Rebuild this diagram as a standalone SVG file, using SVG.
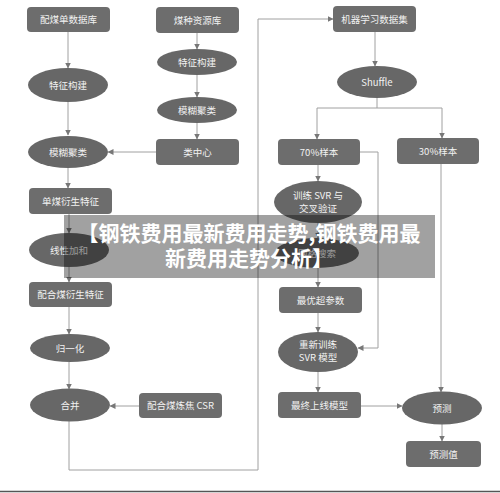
<svg xmlns="http://www.w3.org/2000/svg" width="500" height="493" viewBox="0 0 500 493">
<style>
.box{fill:#6d6d6d}
.ell{fill:#676767}
.t{font-family:"Noto Sans CJK SC","Noto Sans",sans-serif;font-size:9.5px;fill:#f2f2f2;text-anchor:middle}
.c{fill:none;stroke:#a0a0a0;stroke-width:1}
.banner{font-family:"Noto Sans CJK SC",sans-serif;font-size:21px;font-weight:bold;fill:#ffffff;text-anchor:middle}
</style>
<defs>
<marker id="ah" markerWidth="6" markerHeight="6" refX="5.5" refY="3" orient="auto" markerUnits="userSpaceOnUse">
<path d="M0,0 L6,3 L0,6 Z" fill="#777"/>
</marker>
</defs>
<rect width="500" height="493" fill="#ffffff"/>
<g id="connectors">
<path class="c" d="M68,32 V68" marker-end="url(#ah)"/>
<path class="c" d="M68,102 V135" marker-end="url(#ah)"/>
<path class="c" d="M68,168 V188" marker-end="url(#ah)"/>
<path class="c" d="M69,214 V233" marker-end="url(#ah)"/>
<path class="c" d="M69,267 V282" marker-end="url(#ah)"/>
<path class="c" d="M69,307 V334" marker-end="url(#ah)"/>
<path class="c" d="M69,362 V389" marker-end="url(#ah)"/>
<path class="c" d="M139,406 H110" marker-end="url(#ah)"/>
<path class="c" d="M69,421 V470 H258 V19 H333" marker-end="url(#ah)"/>
<path class="c" d="M197,33 V49" marker-end="url(#ah)"/>
<path class="c" d="M197,75 V97" marker-end="url(#ah)"/>
<path class="c" d="M197,123 V139" marker-end="url(#ah)"/>
<path class="c" d="M156,152 H108" marker-end="url(#ah)"/>
<path class="c" d="M375,32 V66" marker-end="url(#ah)"/>
<path class="c" d="M377,98 V108"/>
<path class="c" d="M317,108 H442"/>
<path class="c" d="M317,108 V139" marker-end="url(#ah)"/>
<path class="c" d="M442,108 V138" marker-end="url(#ah)"/>
<path class="c" d="M318,165 V181" marker-end="url(#ah)"/>
<path class="c" d="M318,223 V238" marker-end="url(#ah)"/>
<path class="c" d="M318,268 V287" marker-end="url(#ah)"/>
<path class="c" d="M318,313 V332" marker-end="url(#ah)"/>
<path class="c" d="M360,152 H378 V348 H358" marker-end="url(#ah)"/>
<path class="c" d="M318,372 V392" marker-end="url(#ah)"/>
<path class="c" d="M361,406 H402" marker-end="url(#ah)"/>
<path class="c" d="M441,164 V392" marker-end="url(#ah)"/>
<path class="c" d="M442,424 V441" marker-end="url(#ah)"/>
</g>
<g id="n1"><rect class="box" x="27" y="7" width="83" height="25" rx="4"/><text class="t" x="68.5" y="23">配煤单数据库</text></g>
<g id="n2"><ellipse class="ell" cx="68" cy="85" rx="40" ry="17"/><text class="t" x="68" y="88.5">特征构建</text></g>
<g id="n3"><ellipse class="ell" cx="68" cy="152" rx="40" ry="16"/><text class="t" x="68" y="155.5">模糊聚类</text></g>
<g id="n4"><rect class="box" x="29" y="188" width="83" height="26" rx="4"/><text class="t" x="70.5" y="204.5">单煤衍生特征</text></g>
<g id="n5"><ellipse class="ell" cx="69" cy="250" rx="40" ry="17"/><text class="t" x="69" y="253.5">线性加和</text></g>
<g id="n6"><rect class="box" x="29" y="282" width="83" height="25" rx="4"/><text class="t" x="70.5" y="298">配合煤衍生特征</text></g>
<g id="n7"><ellipse class="ell" cx="70" cy="348" rx="40" ry="14"/><text class="t" x="70" y="351.5">归一化</text></g>
<g id="n8"><ellipse class="ell" cx="70" cy="405" rx="40" ry="16.5"/><text class="t" x="70" y="408.5">合并</text></g>
<g id="n9"><rect class="box" x="139" y="393" width="83" height="25" rx="4"/><text class="t" x="180.5" y="409">配合煤炼焦 CSR</text></g>
<g id="m1"><rect class="box" x="156" y="7" width="83" height="26" rx="4"/><text class="t" x="197.5" y="23.5">煤种资源库</text></g>
<g id="m2"><ellipse class="ell" cx="197" cy="62" rx="40" ry="13"/><text class="t" x="197" y="65.5">特征构建</text></g>
<g id="m3"><ellipse class="ell" cx="197" cy="110" rx="40" ry="13"/><text class="t" x="197" y="113.5">模糊聚类</text></g>
<g id="m4"><rect class="box" x="156" y="139" width="83" height="26" rx="4"/><text class="t" x="197.5" y="155.5">类中心</text></g>
<g id="r1"><rect class="box" x="333" y="6" width="83" height="26" rx="4"/><text class="t" x="374.5" y="22.5">机器学习数据集</text></g>
<g id="r2"><ellipse class="ell" cx="377" cy="82" rx="40" ry="16"/><text class="t" x="377" y="85.5">Shuffle</text></g>
<g id="r3"><rect class="box" x="278" y="139" width="82" height="26" rx="4"/><text class="t" x="319" y="155.5">70%样本</text></g>
<g id="r4"><rect class="box" x="397" y="138" width="82" height="26" rx="4"/><text class="t" x="438" y="154.5">30%样本</text></g>
<g id="r5"><ellipse class="ell" cx="318" cy="202" rx="44" ry="21"/><text class="t" x="318" y="199">训练 SVR 与</text><text class="t" x="318" y="212">交叉验证</text></g>
<g id="r6"><ellipse class="ell" cx="317" cy="253" rx="42" ry="15"/><text class="t" x="317" y="256.5">网格搜索</text></g>
<g id="r7"><rect class="box" x="279" y="287" width="83" height="26" rx="4"/><text class="t" x="320.5" y="303.5">最优超参数</text></g>
<g id="r8"><ellipse class="ell" cx="318" cy="352" rx="40" ry="20"/><text class="t" x="318" y="348">重新训练</text><text class="t" x="318" y="361">SVR 模型</text></g>
<g id="r9"><rect class="box" x="278" y="392" width="83" height="26" rx="4"/><text class="t" x="319.5" y="408.5">最终上线模型</text></g>
<g id="r10"><ellipse class="ell" cx="442" cy="408" rx="40" ry="16.5"/><text class="t" x="442" y="411.5">预测</text></g>
<g id="r11"><rect class="box" x="406" y="441" width="75" height="26" rx="4"/><text class="t" x="443.5" y="457.5">预测值</text></g>
<line x1="0" y1="491.5" x2="500" y2="491.5" stroke="#555" stroke-width="1.5"/>
<g id="banner">
<rect x="64" y="215" width="371" height="63" fill="#000" fill-opacity="0.37"/>
<text class="banner" x="249" y="241">【钢铁费用最新费用走势,钢铁费用最</text>
<text class="banner" x="249" y="266">新费用走势分析】</text>
</g>
</svg>
